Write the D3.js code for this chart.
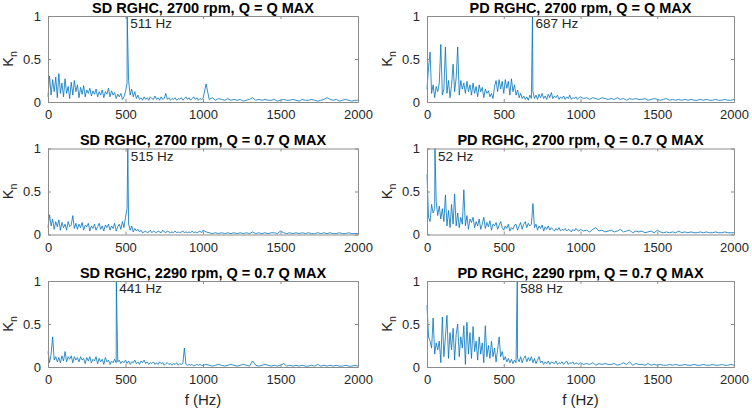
<!DOCTYPE html>
<html>
<head>
<meta charset="utf-8">
<script src="https://cdn.jsdelivr.net/npm/d3@7"></script>
<style>
body { margin: 0; background: #fff; }
svg { display: block; font-family: "Liberation Sans", Arial, sans-serif; }
</style>
</head>
<body>
<svg></svg>
<script>
var w = 752, h = 409

// frequency bins (Hz): 10 Hz steps below 1000, 20 Hz steps above
var freqLo = d3.range(0, 1000, 10)
var freqHi = d3.range(1000, 2001, 20)

var titles = [
    "SD RGHC, 2700 rpm, Q = Q MAX",
    "PD RGHC, 2700 rpm, Q = Q MAX",
    "SD RGHC, 2700 rpm, Q = 0.7 Q MAX",
    "PD RGHC, 2700 rpm, Q = 0.7 Q MAX",
    "SD RGHC, 2290 rpm, Q = 0.7 Q MAX",
    "PD RGHC, 2290 rpm, Q = 0.7 Q MAX"
]
var peakFreq = [511, 687, 515, 52, 441, 588]
var peakVal = [1, 1, 1, 1, 1, 1]

var sdQmax = [
    0.06, 0.30, 0.08, 0.26, 0.12, 0.29, 0.05, 0.33, 0.10, 0.22,
    0.06, 0.27, 0.10, 0.18, 0.04, 0.23, 0.08, 0.25, 0.12, 0.20,
    0.05, 0.17, 0.09, 0.19, 0.06, 0.14, 0.10, 0.16, 0.07, 0.13,
    0.09, 0.15, 0.06, 0.12, 0.08, 0.14, 0.05, 0.12, 0.09, 0.16,
    0.06, 0.13, 0.08, 0.11, 0.04, 0.09, 0.06, 0.10, 0.03, 0.06,
    0.12, 0.22, 0.25, 0.08, 0.15, 0.06, 0.12, 0.04, 0.08, 0.03,
    0.05, 0.02, 0.06, 0.03, 0.05, 0.02, 0.06, 0.04, 0.03, 0.07,
    0.03, 0.05, 0.02, 0.06, 0.03, 0.04, 0.10, 0.03, 0.05, 0.02,
    0.04, 0.03, 0.05, 0.02, 0.04, 0.03, 0.05, 0.02, 0.04, 0.06,
    0.03, 0.05, 0.02, 0.04, 0.06, 0.03, 0.05, 0.02, 0.04, 0.03,
    0.04, 0.21, 0.03, 0.05, 0.02, 0.04, 0.03, 0.02, 0.04, 0.02,
    0.03, 0.02, 0.03, 0.01, 0.02, 0.03, 0.05, 0.02, 0.03, 0.02,
    0.03, 0.02, 0.02, 0.03, 0.01, 0.02, 0.03, 0.02, 0.02, 0.03,
    0.02, 0.01, 0.03, 0.02, 0.02, 0.03, 0.02, 0.01, 0.02, 0.03,
    0.05, 0.03, 0.02, 0.03, 0.01, 0.02, 0.03, 0.02, 0.01, 0.02,
    0.02
]
var pdQmax = [
    0.15, 0.40, 0.58, 0.10, 0.20, 0.05, 0.18, 0.12, 0.22, 0.67,
    0.08, 0.15, 0.64, 0.10, 0.25, 0.05, 0.20, 0.44, 0.12, 0.28,
    0.64, 0.08, 0.25, 0.15, 0.22, 0.10, 0.24, 0.12, 0.20, 0.08,
    0.22, 0.10, 0.18, 0.06, 0.20, 0.12, 0.17, 0.05, 0.15, 0.10,
    0.13, 0.06, 0.10, 0.04, 0.18, 0.25, 0.12, 0.26, 0.15, 0.24,
    0.10, 0.26, 0.16, 0.24, 0.08, 0.27, 0.12, 0.20, 0.08, 0.14,
    0.05, 0.10, 0.04, 0.07, 0.03, 0.06, 0.02, 0.08, 0.04, 0.12,
    0.04, 0.08, 0.03, 0.09, 0.05, 0.10, 0.04, 0.07, 0.03, 0.09,
    0.05, 0.11, 0.04, 0.07, 0.05, 0.08, 0.03, 0.06, 0.04, 0.07,
    0.03, 0.06, 0.04, 0.08, 0.03, 0.05, 0.04, 0.06, 0.03, 0.05,
    0.06, 0.04, 0.05, 0.03, 0.05, 0.04, 0.03, 0.05, 0.04, 0.03,
    0.04, 0.03, 0.05, 0.03, 0.04, 0.02, 0.04, 0.03, 0.04, 0.03,
    0.03, 0.04, 0.02, 0.03, 0.04, 0.03, 0.02, 0.03, 0.04, 0.02,
    0.03, 0.02, 0.03, 0.02, 0.03, 0.02, 0.03, 0.02, 0.02, 0.03,
    0.02, 0.03, 0.02, 0.02, 0.03, 0.02, 0.02, 0.03, 0.02, 0.02,
    0.03
]
var sd07 = [
    0.08, 0.23, 0.10, 0.18, 0.06, 0.15, 0.09, 0.17, 0.05, 0.14,
    0.08, 0.12, 0.05, 0.15, 0.09, 0.11, 0.22, 0.07, 0.13, 0.06,
    0.12, 0.08, 0.14, 0.05, 0.11, 0.09, 0.13, 0.04, 0.10, 0.07,
    0.12, 0.05, 0.09, 0.13, 0.06, 0.10, 0.04, 0.11, 0.08, 0.12,
    0.05, 0.10, 0.07, 0.13, 0.04, 0.09, 0.12, 0.06, 0.15, 0.08,
    0.20, 0.30, 0.12, 0.05, 0.10, 0.03, 0.07, 0.04, 0.06, 0.03,
    0.05, 0.02, 0.03, 0.04, 0.02, 0.03, 0.05, 0.02, 0.04, 0.03,
    0.02, 0.04, 0.03, 0.02, 0.05, 0.03, 0.02, 0.04, 0.03, 0.02,
    0.03, 0.02, 0.04, 0.02, 0.03, 0.02, 0.03, 0.04, 0.02, 0.03,
    0.02, 0.03, 0.02, 0.04, 0.02, 0.03, 0.02, 0.03, 0.04, 0.02,
    0.05, 0.03, 0.02, 0.01, 0.02, 0.01, 0.02, 0.01, 0.02, 0.01,
    0.02, 0.01, 0.02, 0.01, 0.02, 0.01, 0.03, 0.01, 0.02, 0.01,
    0.02, 0.01, 0.02, 0.02, 0.01, 0.04, 0.02, 0.01, 0.02, 0.01,
    0.02, 0.01, 0.02, 0.01, 0.02, 0.01, 0.01, 0.02, 0.01, 0.02,
    0.01, 0.02, 0.01, 0.01, 0.02, 0.01, 0.01, 0.02, 0.01, 0.01,
    0.01
]
var pd07 = [
    0.70, 0.20, 0.15, 0.35, 0.25, 0.30, 0.38, 0.22, 0.33, 0.18,
    0.30, 0.15, 0.46, 0.10, 0.28, 0.08, 0.35, 0.12, 0.47, 0.10,
    0.25, 0.08, 0.20, 0.12, 0.52, 0.10, 0.22, 0.06, 0.18, 0.14,
    0.20, 0.08, 0.15, 0.10, 0.18, 0.06, 0.12, 0.20, 0.07, 0.14,
    0.09, 0.16, 0.05, 0.12, 0.10, 0.14, 0.06, 0.11, 0.15, 0.08,
    0.05, 0.10, 0.07, 0.12, 0.04, 0.08, 0.06, 0.11, 0.12, 0.05,
    0.10, 0.14, 0.06, 0.12, 0.15, 0.08, 0.13, 0.10, 0.12, 0.36,
    0.08, 0.12, 0.05, 0.10, 0.07, 0.11, 0.04, 0.09, 0.06, 0.10,
    0.05, 0.08, 0.06, 0.04, 0.07, 0.05, 0.08, 0.04, 0.06, 0.05,
    0.07, 0.04, 0.06, 0.05, 0.03, 0.06, 0.04, 0.07, 0.05, 0.04,
    0.06, 0.04, 0.05, 0.03, 0.06, 0.08, 0.04, 0.05, 0.03, 0.04,
    0.05, 0.03, 0.04, 0.06, 0.03, 0.04, 0.05, 0.02, 0.04, 0.03,
    0.04, 0.02, 0.03, 0.04, 0.02, 0.05, 0.03, 0.02, 0.03, 0.02,
    0.03, 0.02, 0.04, 0.02, 0.03, 0.02, 0.03, 0.02, 0.02, 0.03,
    0.02, 0.03, 0.02, 0.02, 0.03, 0.02, 0.02, 0.03, 0.02, 0.02,
    0.02
]
var sd2290 = [
    0.18, 0.05, 0.15, 0.35, 0.08, 0.12, 0.06, 0.11, 0.05, 0.13,
    0.07, 0.18, 0.06, 0.12, 0.09, 0.13, 0.05, 0.12, 0.08, 0.11,
    0.06, 0.12, 0.08, 0.10, 0.04, 0.11, 0.07, 0.12, 0.05, 0.09,
    0.07, 0.12, 0.04, 0.10, 0.06, 0.09, 0.03, 0.11, 0.06, 0.08,
    0.03, 0.07, 0.05, 0.09, 0.05, 0.06, 0.08, 0.04, 0.07, 0.05,
    0.08, 0.04, 0.07, 0.03, 0.06, 0.05, 0.08, 0.04, 0.06, 0.03,
    0.07, 0.05, 0.08, 0.04, 0.06, 0.03, 0.05, 0.04, 0.06, 0.03,
    0.05, 0.03, 0.06, 0.04, 0.05, 0.02, 0.04, 0.05, 0.03, 0.04,
    0.02, 0.04, 0.03, 0.05, 0.02, 0.04, 0.03, 0.04, 0.22, 0.03,
    0.02, 0.03, 0.02, 0.03, 0.01, 0.02, 0.03, 0.02, 0.03, 0.02,
    0.02, 0.03, 0.02, 0.01, 0.02, 0.03, 0.02, 0.01, 0.02, 0.03,
    0.02, 0.01, 0.02, 0.03, 0.02, 0.01, 0.07, 0.02, 0.01, 0.02,
    0.03, 0.02, 0.01, 0.02, 0.01, 0.02, 0.04, 0.01, 0.02, 0.01,
    0.02, 0.01, 0.02, 0.01, 0.01, 0.02, 0.01, 0.03, 0.01, 0.02,
    0.01, 0.02, 0.01, 0.02, 0.01, 0.01, 0.02, 0.01, 0.01, 0.02,
    0.01
]
var pd2290 = [
    0.72, 0.35, 0.30, 0.22, 0.57, 0.15, 0.28, 0.20, 0.30, 0.05,
    0.58, 0.12, 0.35, 0.60, 0.10, 0.40, 0.20, 0.45, 0.08, 0.38,
    0.50, 0.12, 0.35, 0.22, 0.48, 0.03, 0.52, 0.15, 0.40, 0.10,
    0.47, 0.18, 0.30, 0.08, 0.35, 0.15, 0.28, 0.05, 0.48, 0.12,
    0.25, 0.10, 0.30, 0.12, 0.22, 0.06, 0.20, 0.35, 0.12, 0.18,
    0.08, 0.12, 0.06, 0.10, 0.05, 0.09, 0.04, 0.08, 0.05, 0.10,
    0.06, 0.12, 0.05, 0.10, 0.13, 0.06, 0.11, 0.07, 0.12, 0.05,
    0.10, 0.04, 0.08, 0.12, 0.05, 0.07, 0.03, 0.06, 0.04, 0.07,
    0.03, 0.06, 0.05, 0.04, 0.07, 0.03, 0.05, 0.04, 0.06, 0.03,
    0.05, 0.07, 0.03, 0.05, 0.04, 0.06, 0.03, 0.05, 0.04, 0.03,
    0.05, 0.03, 0.04, 0.03, 0.05, 0.02, 0.04, 0.03, 0.04, 0.03,
    0.03, 0.04, 0.02, 0.03, 0.05, 0.03, 0.06, 0.02, 0.04, 0.03,
    0.03, 0.02, 0.04, 0.02, 0.03, 0.02, 0.03, 0.02, 0.02, 0.03,
    0.02, 0.03, 0.02, 0.02, 0.03, 0.02, 0.02, 0.03, 0.02, 0.02,
    0.03, 0.02, 0.02, 0.03, 0.02, 0.02, 0.03, 0.02, 0.02, 0.03,
    0.02
]
var series = [sdQmax, pdQmax, sd07, pd07, sd2290, pd2290]

var xTicks = [0, 500, 1000, 1500, 2000]
var yTicks = [0, 0.5, 1]

var colLeft = [48, 427]
var colWidth = [310, 307]
var rowTop = [16, 148.5, 281]
var ph = 86
var lineColor = "#0072BD"
var axisColor = "#262626"

var svg = d3.select("svg")
    .attr("width", w)
    .attr("height", h)

var freq = freqLo.concat(freqHi)

series.forEach(function(vals, i) {
    var col = i % 2, row = Math.floor(i / 2)
    var pw = colWidth[col]
    var g = svg.append("g")
        .attr("transform", "translate(" + colLeft[col] + "," + rowTop[row] + ")")

    var x = d3.scaleLinear().domain([0, 2000]).range([0, pw])
    var y = d3.scaleLinear().domain([0, 1]).range([ph, 0])

    var pts = freq.map(function(f, k) { return [f, vals[k]] })
    pts.push([peakFreq[i], peakVal[i]])
    pts.sort(function(a, b) { return a[0] - b[0] })

    g.append("rect")
        .attr("width", pw)
        .attr("height", ph)
        .attr("fill", "#fff")

    g.append("path")
        .datum(pts)
        .attr("fill", "none")
        .attr("stroke", lineColor)
        .attr("stroke-width", 0.8)
        .attr("stroke-linejoin", "round")
        .attr("d", d3.line().x(function(d) { return x(d[0]) }).y(function(d) { return y(d[1]) }))

    // axes, ticks inside, mirrored on top/right
    var xb = g.append("g").attr("transform", "translate(0," + ph + ")")
        .call(d3.axisBottom(x).tickValues(xTicks).tickSizeInner(-3).tickSizeOuter(0).tickPadding(8).tickFormat(d3.format("d")))
    var xt = g.append("g")
        .call(d3.axisTop(x).tickValues(xTicks).tickSizeInner(-3).tickSizeOuter(0).tickFormat(""))
    var yl = g.append("g")
        .call(d3.axisLeft(y).tickValues(yTicks).tickSizeInner(-3).tickSizeOuter(0).tickPadding(7).tickFormat(d3.format("")))
    var yr = g.append("g").attr("transform", "translate(" + pw + ",0)")
        .call(d3.axisRight(y).tickValues(yTicks).tickSizeInner(-3).tickSizeOuter(0).tickFormat(""))

    ;[xb, xt, yl, yr].forEach(function(a) {
        a.selectAll("path").attr("stroke", "#8c8c8c").attr("stroke-width", 1)
        a.selectAll("line").attr("stroke", "#8c8c8c")
        a.selectAll("text")
            .attr("fill", axisColor)
            .style("font-size", "13px")
            .style("font-family", "'Liberation Sans', Arial, sans-serif")
    })

    g.append("text")
        .attr("x", pw / 2)
        .attr("y", -7)
        .attr("text-anchor", "middle")
        .attr("dominant-baseline", "middle")
        .attr("font-weight", "bold")
        .attr("font-size", 14.5)
        .attr("fill", "#000")
        .text(titles[i])

    g.append("text")
        .attr("x", x(peakFreq[i]) + 3)
        .attr("y", y(0.9))
        .attr("dominant-baseline", "middle")
        .attr("font-size", 13.5)
        .attr("fill", axisColor)
        .text(peakFreq[i] + " Hz")

    var yl2 = g.append("text")
        .attr("transform", "translate(" + (-35) + "," + (ph / 2) + ") rotate(-90)")
        .attr("text-anchor", "middle")
        .attr("font-size", 14.5)
        .attr("fill", axisColor)
    yl2.append("tspan").text("K")
    yl2.append("tspan").attr("font-size", 10.5).attr("dy", 4).text("n")

    if (row == 2) {
        g.append("text")
            .attr("x", pw / 2)
            .attr("y", ph + 38)
            .attr("text-anchor", "middle")
            .attr("font-size", 15)
            .attr("fill", axisColor)
            .text("f (Hz)")
    }
})
</script>
</body>
</html>
